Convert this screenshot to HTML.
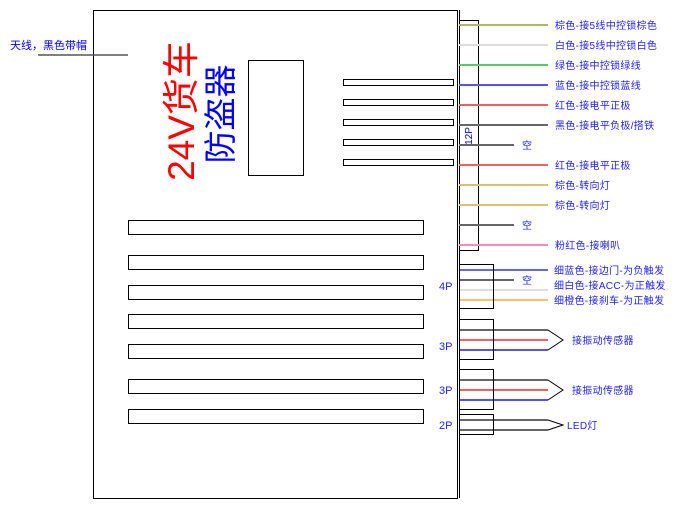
<!DOCTYPE html>
<html><head><meta charset="utf-8"><style>
body{margin:0;background:#fff;width:695px;height:510px;overflow:hidden;font-family:"Liberation Sans","Noto Sans CJK SC",sans-serif}
</style></head><body>
<svg width="695" height="510" xmlns="http://www.w3.org/2000/svg" font-family="Liberation Sans, Noto Sans CJK SC, sans-serif">
<rect x="93.5" y="10.5" width="364" height="488" fill="none" stroke="#000"/>
<rect x="248.5" y="60.5" width="55" height="115" fill="none" stroke="#000"/>
<g fill="none" stroke="#000">
<rect x="343.5" y="79.5" width="110" height="6"/><rect x="343.5" y="99.5" width="110" height="6"/>
<rect x="343.5" y="119.5" width="110" height="6"/><rect x="343.5" y="139.5" width="110" height="6"/>
<rect x="343.5" y="159.5" width="110" height="6"/>
<rect x="128.5" y="220.5" width="295" height="14"/><rect x="128.5" y="255.5" width="295" height="14"/>
<rect x="128.5" y="285.5" width="295" height="14"/><rect x="128.5" y="314.5" width="295" height="14"/>
<rect x="128.5" y="344.5" width="295" height="14"/><rect x="128.5" y="379.5" width="295" height="14"/>
<rect x="128.5" y="409.5" width="295" height="14"/>
</g>
<text transform="translate(194,111) rotate(-90)" text-anchor="middle" font-size="37" fill="#f00">24V货车</text>
<text transform="translate(232,114) rotate(-90)" text-anchor="middle" font-size="33" fill="#00f">防盗器</text>
<text x="10" y="49" font-size="11" fill="#00f">天线，黑色带帽</text>
<line x1="38" y1="55" x2="128" y2="55" stroke="#555" stroke-width="1.5"/>
<line x1="459.5" y1="10" x2="459.5" y2="498" stroke="#000"/>
<rect x="459.5" y="20.5" width="19" height="230" fill="none" stroke="#000"/>
<text transform="translate(472,136) rotate(-90)" text-anchor="middle" font-size="10" fill="#00f">12P</text>
<g stroke-width="2">
<line x1="459" y1="25" x2="548" y2="25" stroke="#b8b460"/>
<line x1="459" y1="45" x2="548" y2="45" stroke="#ddd"/>
<line x1="459" y1="65" x2="548" y2="65" stroke="#55cc66"/>
<line x1="459" y1="85" x2="548" y2="85" stroke="#5555ee"/>
<line x1="459" y1="105" x2="548" y2="105" stroke="#f06060"/>
<line x1="459" y1="125" x2="548" y2="125" stroke="#666"/>
<line x1="459" y1="145" x2="514" y2="145" stroke="#666"/>
<line x1="459" y1="165" x2="548" y2="165" stroke="#f06060"/>
<line x1="459" y1="185" x2="548" y2="185" stroke="#e0c070"/>
<line x1="459" y1="205" x2="548" y2="205" stroke="#e0c070"/>
<line x1="459" y1="225" x2="514" y2="225" stroke="#666"/>
<line x1="459" y1="245" x2="548" y2="245" stroke="#ff88bb"/>
<line x1="459" y1="270" x2="548" y2="270" stroke="#6666ee"/>
<line x1="459" y1="280" x2="514" y2="280" stroke="#666"/>
<line x1="459" y1="290" x2="548" y2="290" stroke="#ddd"/>
<line x1="459" y1="300" x2="548" y2="300" stroke="#f5c070"/>
<line x1="459" y1="330" x2="548" y2="330" stroke="#666"/>
<line x1="459" y1="340" x2="548" y2="340" stroke="#f06060"/>
<line x1="459" y1="350" x2="548" y2="350" stroke="#5555ee"/>
<line x1="459" y1="380" x2="548" y2="380" stroke="#666"/>
<line x1="459" y1="390" x2="548" y2="390" stroke="#f06060"/>
<line x1="459" y1="400" x2="548" y2="400" stroke="#5555ee"/>
<line x1="459" y1="420" x2="548" y2="420" stroke="#666"/>
<line x1="459" y1="430" x2="548" y2="430" stroke="#666"/>
</g>
<g fill="none" stroke="#000">
<rect x="459.5" y="264.5" width="34" height="44"/>
<rect x="459.5" y="319.5" width="34" height="40"/>
<rect x="459.5" y="369.5" width="34" height="40"/>
<rect x="459.5" y="414.5" width="34" height="20"/>
<polyline points="548,330 563,340 548,350"/>
<polyline points="548,380 563,390 548,400"/>
<polyline points="548,420 563,425 548,430"/>
</g>
<g font-size="10" fill="#22f" letter-spacing="0.3">
<text x="555" y="29">棕色-接5线中控锁棕色</text>
<text x="555" y="49">白色-接5线中控锁白色</text>
<text x="555" y="69">绿色-接中控锁绿线</text>
<text x="555" y="89">蓝色-接中控锁蓝线</text>
<text x="555" y="109">红色-接电平正极</text>
<text x="555" y="129">黑色-接电平负极/搭铁</text>
<text x="522" y="149">空</text>
<text x="555" y="169">红色-接电平正极</text>
<text x="555" y="189">棕色-转向灯</text>
<text x="555" y="209">棕色-转向灯</text>
<text x="522" y="229">空</text>
<text x="555" y="249">粉红色-接喇叭</text>
<text x="554" y="274">细蓝色-接边门-为负触发</text>
<text x="522" y="284">空</text>
<text x="554" y="289">细白色-接ACC-为正触发</text>
<text x="554" y="304">细橙色-接刹车-为正触发</text>
<text x="572" y="344">接振动传感器</text>
<text x="572" y="394">接振动传感器</text>
<text x="567" y="429">LED灯</text>
</g>
<g font-size="11" fill="#22f">
<text x="439" y="290">4P</text>
<text x="439" y="350">3P</text>
<text x="439" y="394">3P</text>
<text x="439" y="429">2P</text>
</g>
</svg>
</body></html>
